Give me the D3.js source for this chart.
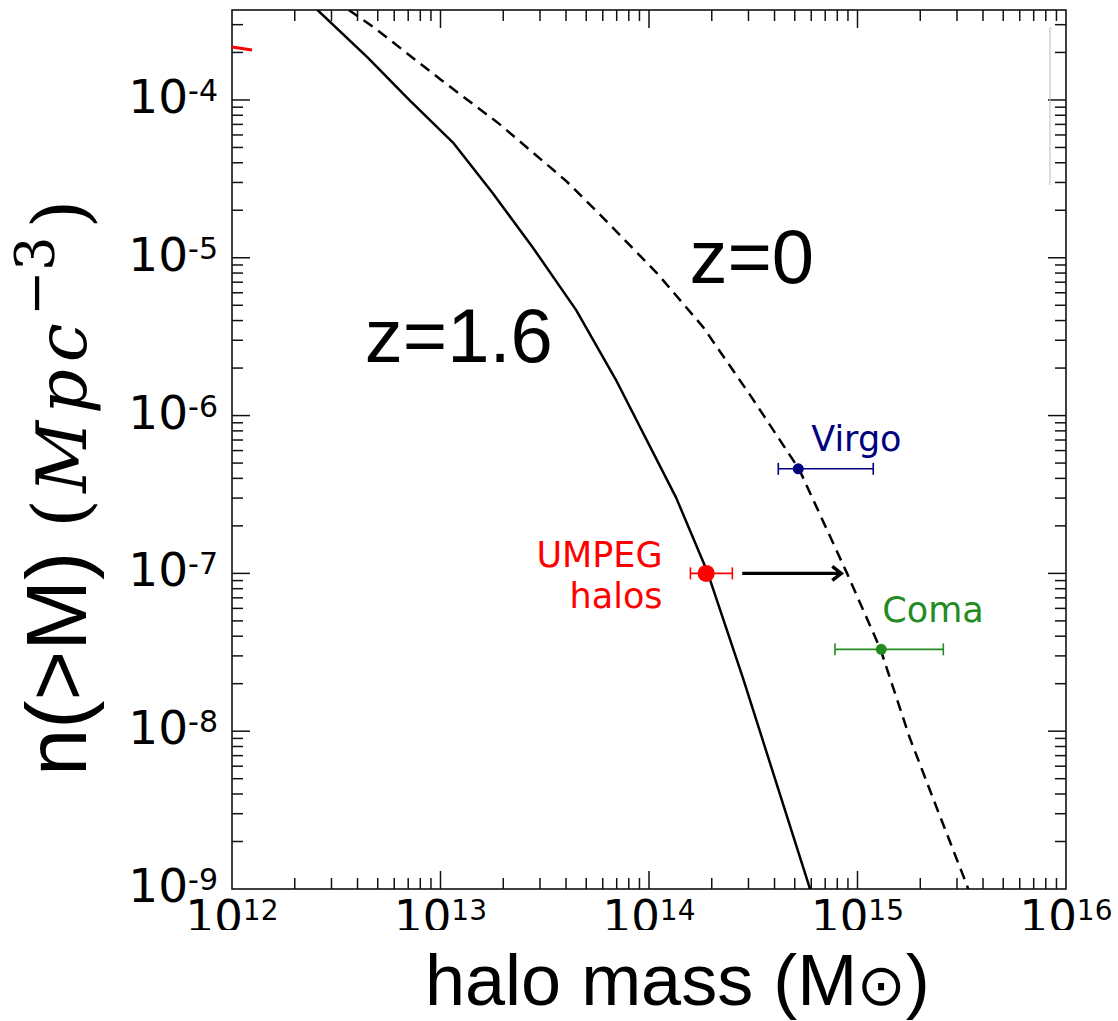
<!DOCTYPE html>
<html>
<head>
<meta charset="utf-8">
<script src="https://cdn.jsdelivr.net/npm/d3@7"></script>
<style>
  body { margin: 0; background: #fff; }
  svg { display: block; }
</style>
</head>
<body>
<svg id="chart" width="1118" height="1021"></svg>
<script>
// data (log10 values)
var logMassZ16 = [12.41, 12.65, 12.85, 13.06, 13.25, 13.44, 13.65, 13.84, 14.13, 14.28, 14.45, 14.77, 14.8]
var logNZ16    = [-3.43, -3.73, -4.0, -4.27, -4.59, -4.93, -5.33, -5.77, -6.52, -6.99, -7.66, -8.99, -9.11]
var logMassZ0  = [12.56, 12.68, 13.0, 13.28, 13.6, 13.76, 14.04, 14.26, 14.49, 14.72, 14.95, 15.11, 15.25, 15.39, 15.52, 15.6]
var logNZ0     = [-3.43, -3.54, -3.87, -4.15, -4.51, -4.72, -5.10, -5.44, -5.88, -6.34, -7.0, -7.48, -8.04, -8.52, -8.96, -9.25]
var logMassRed = [12.0, 12.096]
var logNRed    = [-3.664, -3.683]

var clusterNames   = ["UMPEG", "Virgo", "Coma"]
var clusterMass    = [1.88e14, 5.2e14, 1.3e15]
var clusterMassLo  = [1.58e14, 4.17e14, 7.8e14]
var clusterMassHi  = [2.51e14, 1.19e15, 2.58e15]
var clusterDensity = [1e-7, 4.6e-7, 3.3e-8]
var clusterColors  = ["#ff0000", "#000080", "#228b22"]

var arrowFrom = [2.8e14, 1e-7]
var arrowTo   = [8.36e14, 1e-7]

var xMajor = [1e12, 1e13, 1e14, 1e15, 1e16]
var yMajor = [1e-9, 1e-8, 1e-7, 1e-6, 1e-5, 1e-4]

var svg = d3.select("#chart")
var pL = 232, pR = 1066, pT = 10, pB = 889

var x = d3.scaleLog().domain([1e12, 1e16]).range([pL, pR])
var y = d3.scaleLog().domain([1e-9, Math.pow(10, -3.43)]).range([pB, pT])

// minor ticks
function minors(lo, hi, maxv){
  var out = []
  for (var e = lo; e <= hi; e++) {
    for (var k = 2; k <= 9; k++) {
      var v = k * Math.pow(10, e)
      if (v < maxv) out.push(v)
    }
  }
  return out
}
var xMinor = minors(12, 15, 1e16)
var yMinor = minors(-9, -4, y.domain()[1])

var defs = svg.append("defs")
defs.append("clipPath").attr("id", "plotclip")
  .append("rect").attr("x", pL).attr("y", pT).attr("width", pR - pL).attr("height", pB - pT)
defs.append("clipPath").attr("id", "xlabclip")
  .append("rect").attr("x", 0).attr("y", 0).attr("width", 1118).attr("height", 930)

// ticks, all inward on four sides
function drawXTicks(g, vals, len){
  g.selectAll(null).data(vals).enter().append("line")
    .attr("x1", d => x(d)).attr("x2", d => x(d))
    .attr("y1", pB).attr("y2", pB - len)
  g.selectAll(null).data(vals).enter().append("line")
    .attr("x1", d => x(d)).attr("x2", d => x(d))
    .attr("y1", pT).attr("y2", pT + len)
}
function drawYTicks(g, vals, len){
  g.selectAll(null).data(vals).enter().append("line")
    .attr("y1", d => y(d)).attr("y2", d => y(d))
    .attr("x1", pL).attr("x2", pL + len)
  g.selectAll(null).data(vals).enter().append("line")
    .attr("y1", d => y(d)).attr("y2", d => y(d))
    .attr("x1", pR).attr("x2", pR - len)
}
var ticks = svg.append("g").attr("stroke", "#111").attr("stroke-width", 1.5)
drawXTicks(ticks, xMajor.slice(1, 4), 18)
drawXTicks(ticks, xMinor, 11)
drawYTicks(ticks, yMajor.slice(1), 18)
drawYTicks(ticks, yMinor, 11)

svg.append("rect")
  .attr("x", pL).attr("y", pT).attr("width", pR - pL).attr("height", pB - pT)
  .attr("fill", "none").attr("stroke", "#111").attr("stroke-width", 1.6)

// stray mark visible in the picture
svg.append("line").attr("x1", 1050).attr("x2", 1050).attr("y1", 27).attr("y2", 185)
  .attr("stroke", "#bbb").attr("stroke-width", 1)

// tick labels
var ylab = svg.append("g").attr("font-family", "DejaVu Sans").attr("fill", "#000")
yMajor.forEach(function(v){
  var t = ylab.append("text").attr("x", 218).attr("y", y(v) + 13).attr("text-anchor", "end")
  t.append("tspan").attr("font-size", 47).text("10")
  t.append("tspan").attr("font-size", 30).attr("dy", -12).text("-" + Math.round(-Math.log10(v)))
})
var xlab = svg.append("g").attr("font-family", "DejaVu Sans").attr("fill", "#000")
  .attr("clip-path", "url(#xlabclip)")
xMajor.forEach(function(v){
  var t = xlab.append("text").attr("x", x(v)).attr("y", 932).attr("text-anchor", "middle")
  t.append("tspan").attr("font-size", 45).text("10")
  t.append("tspan").attr("font-size", 28).attr("dy", -12).text(Math.round(Math.log10(v)))
})

// curves
var line = d3.line()
  .x(d => x(Math.pow(10, d[0])))
  .y(d => y(Math.pow(10, d[1])))

var plot = svg.append("g").attr("clip-path", "url(#plotclip)")
plot.append("path").datum(d3.zip(logMassZ16, logNZ16))
  .attr("d", line).attr("fill", "none").attr("stroke", "#000").attr("stroke-width", 2.5)
  .attr("stroke-linejoin", "round")
plot.append("path").datum(d3.zip(logMassZ0, logNZ0))
  .attr("d", line).attr("fill", "none").attr("stroke", "#000").attr("stroke-width", 2.5)
  .attr("stroke-dasharray", "11,7")
plot.append("path").datum(d3.zip(logMassRed, logNRed))
  .attr("d", line).attr("fill", "none").attr("stroke", "#ff0000").attr("stroke-width", 3)

// error bars
var radii = [8.5, 5.5, 5.5]
clusterNames.forEach(function(name, i){
  var g = plot.append("g").attr("stroke", clusterColors[i]).attr("stroke-width", 1.6)
  var cy = y(clusterDensity[i])
  g.append("line").attr("x1", x(clusterMassLo[i])).attr("x2", x(clusterMassHi[i])).attr("y1", cy).attr("y2", cy)
  g.append("line").attr("x1", x(clusterMassLo[i])).attr("x2", x(clusterMassLo[i])).attr("y1", cy - 6).attr("y2", cy + 6)
  g.append("line").attr("x1", x(clusterMassHi[i])).attr("x2", x(clusterMassHi[i])).attr("y1", cy - 6).attr("y2", cy + 6)
  g.append("circle").attr("cx", x(clusterMass[i])).attr("cy", cy).attr("r", radii[i])
    .attr("fill", clusterColors[i]).attr("stroke", "none")
})

// arrow
var ax0 = x(arrowFrom[0]), ax1 = x(arrowTo[0]), ay = y(arrowTo[1])
plot.append("path")
  .attr("d", "M" + ax0 + "," + ay + "H" + (ax1 - 1) + "M" + (ax1 - 9) + "," + (ay - 7) + "L" + ax1 + "," + ay + "L" + (ax1 - 9) + "," + (ay + 7))
  .attr("fill", "none").attr("stroke", "#000").attr("stroke-width", 3.4)

// annotations
var ann = svg.append("g").attr("font-family", "DejaVu Sans").attr("font-size", 35)
ann.append("text").attr("x", x(Math.pow(10, 14.778))).attr("y", y(Math.pow(10, -6.224)))
  .attr("fill", clusterColors[1]).text("Virgo")
ann.append("text").attr("x", x(Math.pow(10, 15.119))).attr("y", y(Math.pow(10, -7.308)))
  .attr("fill", clusterColors[2]).text("Coma")
ann.append("text").attr("x", x(Math.pow(10, 14.065))).attr("y", y(Math.pow(10, -6.959)))
  .attr("fill", clusterColors[0]).attr("text-anchor", "end").text("UMPEG")
ann.append("text").attr("x", x(Math.pow(10, 14.065))).attr("y", y(Math.pow(10, -7.219)))
  .attr("fill", clusterColors[0]).attr("text-anchor", "end").text("halos")

var big = svg.append("g").attr("font-family", "Liberation Sans, Arial, sans-serif").attr("fill", "#000")
big.append("text").attr("x", x(Math.pow(10, 14.194))).attr("y", y(Math.pow(10, -5.16)))
  .attr("font-size", 76).text("z=0")
big.append("text").attr("x", x(Math.pow(10, 12.637))).attr("y", y(Math.pow(10, -5.66)))
  .attr("font-size", 76).text("z=1.6")

// axis titles
var xt = big.append("text").attr("x", 425).attr("y", 1005).attr("font-size", 72)
xt.append("tspan").text("halo mass (M")
xt.append("tspan").attr("font-family", "DejaVu Sans").attr("font-size", 58).text("\u2299")
xt.append("tspan").text(")")

var yt = big.append("text").attr("transform", "translate(86,776) rotate(-90)").attr("font-size", 85)
yt.append("tspan").text("n(>M)")
yt.append("tspan").attr("font-family", "DejaVu Serif").attr("font-size", 74).attr("dx", 24).text("(")
yt.append("tspan").attr("font-family", "DejaVu Serif").attr("font-style", "italic").attr("font-size", 70)
  .attr("letter-spacing", 7).attr("dx", 6).text("Mpc")
yt.append("tspan").attr("font-family", "DejaVu Serif").attr("font-size", 54).attr("dy", -32).text("\u22123")
yt.append("tspan").attr("font-family", "DejaVu Serif").attr("font-size", 74).attr("dy", 32).attr("dx", 8).text(")")
</script>
</body>
</html>
